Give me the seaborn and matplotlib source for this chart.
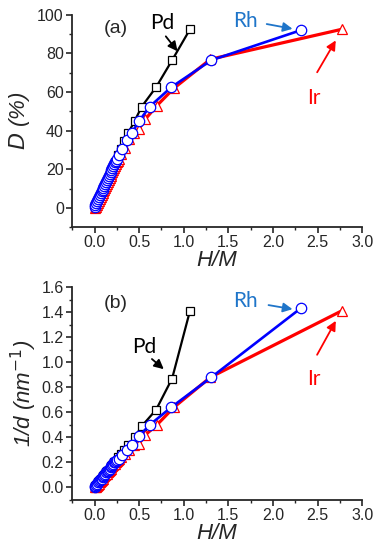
import matplotlib
matplotlib.use("Agg")
import matplotlib.pyplot as plt
import seaborn as sns
import pandas as pd
from matplotlib.ticker import MultipleLocator, FormatStrFormatter

# data (H/M, dispersion D in %, inverse size 1/d in nm^-1)
pd_hm = [0.00, 0.01, 0.02, 0.03, 0.04, 0.05, 0.06, 0.07, 0.08, 0.09, 0.10, 0.11, 0.12,
         0.13, 0.14, 0.15, 0.16, 0.17, 0.18, 0.19, 0.20, 0.21, 0.22, 0.23, 0.24,
         0.26, 0.30, 0.33, 0.38, 0.45, 0.53, 0.69, 0.87, 1.07]
pd_D = [0.5, 1.5, 2.5, 3.5, 4.5, 5.5, 6.5, 7.5, 8.5, 9.5, 10.5, 11.5, 12.5,
        13.5, 14.5, 15.5, 16.5, 17.5, 18.5, 19.5, 20.5, 21.5, 22.5, 23.5, 24.5,
        27.5, 30.5, 34.5, 39, 45, 52.5, 62.5, 76.5, 92.5]
pd_invd = [0.00, 0.01, 0.02, 0.03, 0.04, 0.05, 0.06, 0.07, 0.07, 0.08, 0.09, 0.10, 0.11,
           0.12, 0.13, 0.13, 0.14, 0.15, 0.16, 0.17, 0.18, 0.19, 0.20, 0.20, 0.21,
           0.24, 0.27, 0.30, 0.34, 0.40, 0.49, 0.62, 0.87, 1.41]

rh_hm = [0.00, 0.01, 0.02, 0.03, 0.04, 0.05, 0.06, 0.07, 0.08, 0.09, 0.10, 0.11, 0.12,
         0.13, 0.14, 0.15, 0.16, 0.17, 0.18, 0.19, 0.20, 0.21, 0.22, 0.23, 0.24, 0.25,
         0.27, 0.31, 0.36, 0.42, 0.50, 0.62, 0.86, 1.31, 2.31]
rh_D = [0.5, 1.5, 2.5, 3.5, 4.5, 5.5, 6.5, 7.5, 8.5, 9.5, 10.5, 11.5, 12.5,
        13.5, 14.5, 15.5, 16.5, 17.5, 18.5, 19.5, 20.5, 21.5, 22.5, 23.5, 24.5, 25.5,
        27.5, 30.5, 35, 39, 45, 52.5, 62.5, 76.5, 92]
rh_invd = [0.00, 0.01, 0.02, 0.03, 0.04, 0.05, 0.06, 0.07, 0.07, 0.08, 0.09, 0.10, 0.11,
           0.12, 0.13, 0.13, 0.14, 0.15, 0.16, 0.17, 0.18, 0.19, 0.20, 0.20, 0.21, 0.22,
           0.23, 0.26, 0.30, 0.34, 0.41, 0.50, 0.64, 0.88, 1.43]

ir_hm = [0.00, 0.02, 0.03, 0.04, 0.05, 0.06, 0.07, 0.08, 0.09, 0.10, 0.11, 0.12, 0.13,
         0.14, 0.15, 0.16, 0.17, 0.18, 0.19, 0.20, 0.21, 0.22, 0.23, 0.24, 0.25, 0.26, 0.27,
         0.30, 0.34, 0.39, 0.44, 0.50, 0.57, 0.70, 0.89, 1.30, 2.77]
ir_D = [0.0, 0.5, 1.5, 2.5, 3.5, 4.5, 5.5, 6.5, 7.5, 8.5, 9.5, 10.5, 11.5,
        12.5, 13.5, 14.5, 15.5, 16.5, 17.5, 18.5, 19.5, 20.5, 21.5, 22.5, 23.5, 24.5, 25.5,
        28, 31, 35.5, 39, 41, 46, 53, 62, 77, 92.5]
ir_invd = [0.00, 0.00, 0.01, 0.02, 0.03, 0.04, 0.05, 0.06, 0.07, 0.08, 0.09, 0.10, 0.11,
           0.11, 0.12, 0.13, 0.14, 0.15, 0.16, 0.17, 0.18, 0.19, 0.19, 0.20, 0.21, 0.22, 0.23,
           0.24, 0.27, 0.30, 0.34, 0.35, 0.42, 0.50, 0.64, 0.88, 1.41]

sns.set_style("ticks")
plt.rcParams['font.family'] = ['Liberation Sans', 'DejaVu Sans']

fig = plt.figure(figsize=(3.8, 5.5), dpi=100)
ax1 = fig.add_axes([0.19, 0.587, 0.763, 0.386])
ax2 = fig.add_axes([0.19, 0.091, 0.763, 0.387])

# name, x, D, 1/d, colour, marker, marker size, line width
series = [
    ("Pd", pd_hm, pd_D, pd_invd, "black", "s", 6.3, 1.6),
    ("Ir", ir_hm, ir_D, ir_invd, "#ff0000", "^", 7.5, 2.3),
    ("Rh", rh_hm, rh_D, rh_invd, "#0000ff", "o", 7.5, 1.9),
]

for ax, col in [(ax1, 2), (ax2, 3)]:
    for s in series:
        df = pd.DataFrame({'x': s[1], 'y': s[col]})
        sns.lineplot(data=df, x='x', y='y', ax=ax, sort=False, color=s[4],
                     marker=s[5], markersize=s[6], markerfacecolor='white',
                     markeredgecolor=s[4], markeredgewidth=0.9, lw=s[7])
    ax.set_xlim(-0.25, 3.0)
    ax.xaxis.set_major_locator(MultipleLocator(0.5))
    ax.xaxis.set_minor_locator(MultipleLocator(0.25))
    ax.tick_params(labelsize=11.5, width=1.2, length=4, pad=2)
    ax.tick_params(which='minor', width=1.0, length=2.5)
    for sp in ['left', 'bottom']:
        ax.spines[sp].set_linewidth(1.3)
    sns.despine(ax=ax)
    ax.set_xlabel('H/M', fontsize=16, style='italic', labelpad=0)

ax1.set_ylim(-10, 100)
ax1.yaxis.set_major_locator(MultipleLocator(20))
ax1.yaxis.set_minor_locator(MultipleLocator(10))
ax1.set_ylabel('$\\mathit{D}$ (%)', fontsize=16, style='italic', labelpad=4)

ax2.set_ylim(-0.1, 1.6)
ax2.yaxis.set_major_locator(MultipleLocator(0.2))
ax2.yaxis.set_minor_locator(MultipleLocator(0.1))
ax2.yaxis.set_major_formatter(FormatStrFormatter('%.1f'))
ax2.set_ylabel('1/d (nm$^{\\mathit{-1}}$)', fontsize=16, style='italic', labelpad=2)

lblfont = dict(family=['Lato', 'DejaVu Sans'], fontsize=15)
rh_col = '#1f75c9'
arw = dict(arrowstyle='-|>', lw=1.3, mutation_scale=14)

# panel (a)
ax1.text(0.1, 93, '(a)', fontsize=14, va='center')
ax1.text(0.62, 96, 'Pd', color='black', va='center', **lblfont)
ax1.annotate('', xy=(0.95, 80), xytext=(0.78, 90), arrowprops=dict(color='black', **arw))
ax1.text(1.55, 97, 'Rh', color=rh_col, va='center', **lblfont)
ax1.annotate('', xy=(2.25, 92.5), xytext=(1.9, 95.5), arrowprops=dict(color=rh_col, **arw))
ax1.text(2.38, 57, 'Ir', color='#ff0000', va='center', **lblfont)
ax1.annotate('', xy=(2.72, 88), xytext=(2.48, 69), arrowprops=dict(color='#ff0000', **arw))

# panel (b)
ax2.text(0.1, 1.47, '(b)', fontsize=14, va='center')
ax2.text(0.42, 1.12, 'Pd', color='black', va='center', **lblfont)
ax2.annotate('', xy=(0.8, 0.93), xytext=(0.62, 1.04), arrowprops=dict(color='black', **arw))
ax2.text(1.55, 1.49, 'Rh', color=rh_col, va='center', **lblfont)
ax2.annotate('', xy=(2.25, 1.42), xytext=(1.92, 1.46), arrowprops=dict(color=rh_col, **arw))
ax2.text(2.38, 0.87, 'Ir', color='#ff0000', va='center', **lblfont)
ax2.annotate('', xy=(2.72, 1.35), xytext=(2.48, 1.04), arrowprops=dict(color='#ff0000', **arw))

fig.savefig('out.png', dpi=100)
